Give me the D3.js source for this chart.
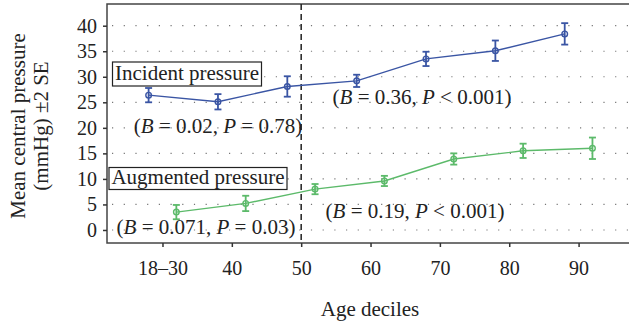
<!DOCTYPE html>
<html>
<head>
<meta charset="utf-8">
<script src="https://cdn.jsdelivr.net/npm/d3@7"></script>
<style>
  body { margin: 0; background: #fff; }
  svg text { font-family: "Liberation Serif", "DejaVu Serif", serif; fill: #222; }
</style>
</head>
<body>
<svg id="chart" width="629" height="325"></svg>
<script>
// values
var incidentAge = [28, 38, 48, 58, 68, 78, 88];
var incidentMean = [26.4, 25.1, 28.1, 29.2, 33.5, 35.1, 38.4];
var incidentSE2 = [1.4, 1.5, 2.0, 1.2, 1.4, 2.0, 2.1];

var augmentedAge = [32, 42, 52, 62, 72, 82, 92];
var augmentedMean = [3.5, 5.2, 8.0, 9.6, 13.9, 15.5, 16.0];
var augmentedSE2 = [1.4, 1.5, 1.0, 1.0, 1.1, 1.4, 2.1];

var xTicks = [30, 40, 50, 60, 70, 80, 90];
var xTickLabels = ['18\u201330', '40', '50', '60', '70', '80', '90'];
var yTicks = [0, 5, 10, 15, 20, 25, 30, 35, 40];

var svg = d3.select('#chart');
var plotLeft = 107, plotTop = 4, plotRight = 641, plotBottom = 243;

var x = d3.scaleLinear().domain([22, 99]).range([plotLeft, plotRight]);
var y = d3.scaleLinear().domain([-2.55, 44.25]).range([plotBottom, plotTop]);

// dotted grid
var grid = svg.append('g');
yTicks.forEach(function(t) {
	grid.append('line')
		.attr('x1', plotLeft + 5).attr('x2', plotRight)
		.attr('y1', y(t)).attr('y2', y(t))
		.attr('stroke', '#777')
		.attr('stroke-width', 1.2)
		.attr('stroke-dasharray', '1.2,10.5');
});

// frame
svg.append('rect')
	.attr('x', plotLeft).attr('y', plotTop)
	.attr('width', plotRight - plotLeft).attr('height', plotBottom - plotTop)
	.attr('fill', 'none')
	.attr('stroke', '#444')
	.attr('stroke-width', 1.5);

// axes
var yAxis = svg.append('g')
	.attr('transform', 'translate(' + plotLeft + ',0)')
	.call(d3.axisLeft(y).tickValues(yTicks).tickSize(4).tickPadding(6));
var xAxis = svg.append('g')
	.attr('transform', 'translate(0,' + plotBottom + ')')
	.call(d3.axisBottom(x).tickValues(xTicks).tickSize(4).tickPadding(14)
		.tickFormat(function(d, i) { return xTickLabels[i]; }));
[yAxis, xAxis].forEach(function(a) {
	a.select('.domain').remove();
	a.selectAll('line').attr('stroke', '#333').attr('stroke-width', 1.5);
	a.selectAll('text').style('font-family', '"Liberation Serif", serif')
		.style('font-size', '20px').attr('fill', '#222');
});

// dashed divider at 50
svg.append('line')
	.attr('x1', x(50)).attr('x2', x(50))
	.attr('y1', plotTop).attr('y2', plotBottom)
	.attr('stroke', '#222')
	.attr('stroke-width', 1.5)
	.attr('stroke-dasharray', '6,4');

function drawSeries(ages, means, se, color) {
	var g = svg.append('g');
	var line = d3.line()
		.x(function(d, i) { return x(ages[i]); })
		.y(function(d) { return y(d); });
	g.append('path')
		.datum(means)
		.attr('d', line)
		.attr('fill', 'none')
		.attr('stroke', color)
		.attr('stroke-width', 1.4);
	means.forEach(function(m, i) {
		var cx = x(ages[i]);
		g.append('line')
			.attr('x1', cx).attr('x2', cx)
			.attr('y1', y(m - se[i])).attr('y2', y(m + se[i]))
			.attr('stroke', color).attr('stroke-width', 1.8);
		[m - se[i], m + se[i]].forEach(function(v) {
			g.append('line')
				.attr('x1', cx - 3.5).attr('x2', cx + 3.5)
				.attr('y1', y(v)).attr('y2', y(v))
				.attr('stroke', color).attr('stroke-width', 1.8);
		});
		g.append('circle')
			.attr('cx', cx).attr('cy', y(m))
			.attr('r', 2.8)
			.attr('fill', 'none')
			.attr('stroke', color)
			.attr('stroke-width', 1.4);
	});
}

drawSeries(incidentAge, incidentMean, incidentSE2, '#3a55a4');
drawSeries(augmentedAge, augmentedMean, augmentedSE2, '#5cba6a');

// boxed series labels
function boxLabel(txt, bx, by, bw, bh) {
	svg.append('rect')
		.attr('x', bx).attr('y', by)
		.attr('width', bw).attr('height', bh)
		.attr('fill', '#fff')
		.attr('stroke', '#222')
		.attr('stroke-width', 1.2);
	svg.append('text')
		.attr('x', bx + bw / 2).attr('y', by + bh - 6)
		.attr('text-anchor', 'middle')
		.style('font-size', '21px')
		.text(txt);
}
boxLabel('Incident pressure', 112.5, 62, 149, 24);
boxLabel('Augmented pressure', 109, 167.5, 178, 22);

// regression annotations
function stat(cx, by, b, rel, p) {
	var t = svg.append('text')
		.attr('x', cx).attr('y', by)
		.attr('text-anchor', 'middle')
		.style('font-size', '21px');
	t.append('tspan').text('(');
	t.append('tspan').style('font-style', 'italic').text('B');
	t.append('tspan').text(' = ' + b + ', ');
	t.append('tspan').style('font-style', 'italic').text('P');
	t.append('tspan').text(' ' + rel + ' ' + p + ')');
}
stat(218, 133, '0.02', '=', '0.78');
stat(422, 104, '0.36', '<', '0.001');
stat(206, 234, '0.071', '=', '0.03');
stat(415, 218, '0.19', '<', '0.001');

// axis titles
svg.append('text')
	.attr('transform', 'translate(25,126) rotate(-90)')
	.attr('text-anchor', 'middle')
	.style('font-size', '21px')
	.text('Mean central pressure');
svg.append('text')
	.attr('transform', 'translate(48,126) rotate(-90)')
	.attr('text-anchor', 'middle')
	.style('font-size', '21px')
	.text('(mmHg) \u00b12 SE');
svg.append('text')
	.attr('x', 370).attr('y', 316)
	.attr('text-anchor', 'middle')
	.style('font-size', '21px')
	.text('Age deciles');
</script>
</body>
</html>
